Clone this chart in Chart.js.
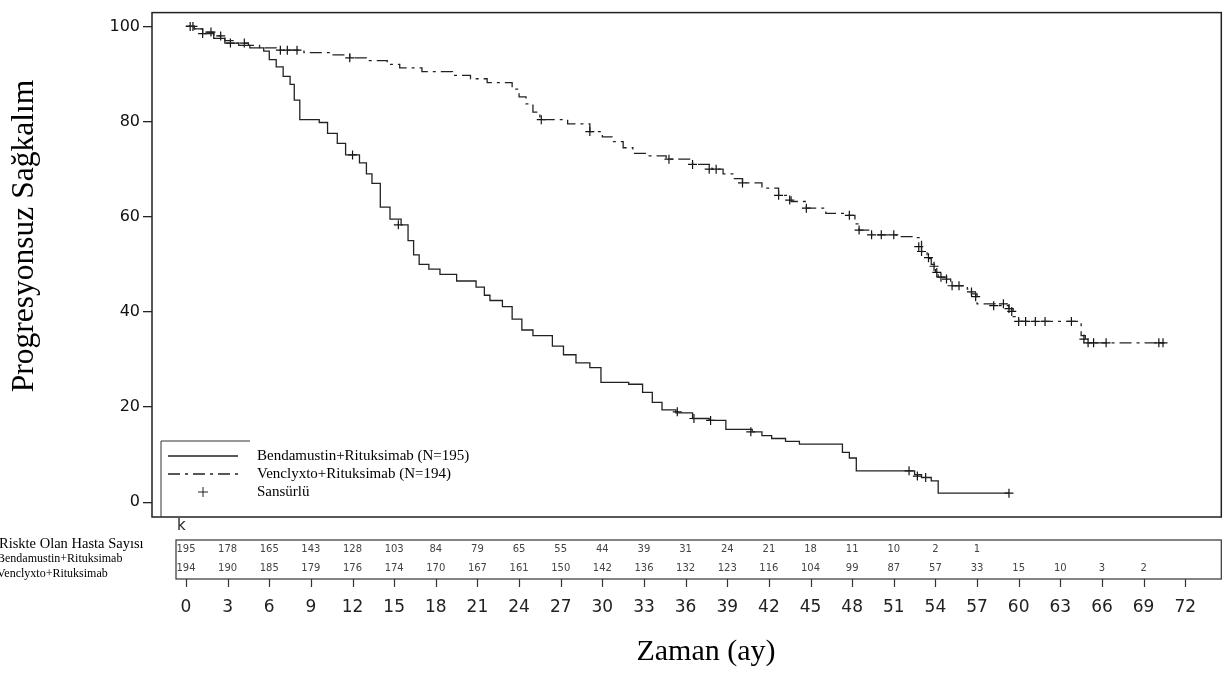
<!DOCTYPE html>
<html>
<head>
    <meta charset="utf-8">
    <title>Progresyonsuz Sağkalım</title>
    <script src="https://cdn.jsdelivr.net/npm/chart.js"></script>
    <style>
        html, body { margin: 0; padding: 0; background: #fff; }
    </style>
</head>
<body>
    <canvas id="kmChart" width="1227" height="673"></canvas>

    <script>
        // Kaplan-Meier curves: [months, % progression-free]
        const brLabel = 'Bendamustin+Rituksimab (N=195)';
        const brCurve = [
            [0, 100], [0.6, 99.5], [1.2, 98.5], [2, 97.5], [2.8, 96.5], [3.8, 96], [4.6, 95.5], [5.6, 94.8],
            [6, 93], [6.5, 91.5], [7, 89.5], [7.5, 87.8], [7.8, 84.5], [8.2, 80.4], [9.6, 79.8], [10.2, 77.5],
            [10.9, 75.4], [11.5, 73], [12.5, 71.3], [13, 69], [13.4, 67], [14, 62], [14.7, 59.5], [15.5, 58.3],
            [16, 55], [16.4, 52], [16.8, 50], [17.5, 49], [18.3, 47.9], [19.5, 46.5], [20.9, 45.2], [21.5, 43.5],
            [21.9, 42.4], [22.8, 41.1], [23.5, 38.5], [24.2, 36.2], [25, 35], [26.4, 32.8], [27.2, 31], [28.1, 29.3],
            [29.1, 28.3], [29.9, 25.2], [31.9, 24.8], [32.9, 23.1], [33.6, 21], [34.3, 19.4], [35.3, 18.8],
            [36.5, 17.6], [37.7, 17.2], [38.9, 15.3], [40.8, 14.8], [41.5, 14], [42.2, 13.4], [43.2, 12.8],
            [44.2, 12.2], [47.3, 10.5], [47.8, 9.3], [48.3, 6.6], [52.5, 5.8], [53, 5.2], [53.7, 4.5], [54.2, 1.9],
            [59.3, 1.9]
        ];
        const brCensored = [
            [0.3, 100], [1.2, 98.5], [3.2, 96.5], [12, 73], [15.3, 58.3], [35.4, 19], [36.6, 17.6],
            [37.8, 17.2], [40.7, 14.8], [52.1, 6.6], [52.7, 5.5], [53.3, 5.2], [59.3, 1.9]
        ];

        const vrLabel = 'Venclyxto+Rituksimab (N=194)';
        const vrCurve = [
            [0, 100], [0.6, 99.5], [1.2, 98.8], [2, 98], [2.8, 97], [3.6, 96.5], [4.5, 96], [5.3, 95.5],
            [6.5, 95], [8.5, 94.5], [10.5, 94], [11.8, 93.4], [13, 92.8], [14.5, 92], [15.4, 91.3], [17, 90.5],
            [19.2, 89.7], [20.5, 89], [21.7, 88.2], [23.5, 86.8], [24, 85.2], [24.5, 83.7], [25, 82], [25.5, 80.4],
            [27.5, 79.5], [29.1, 77.9], [30, 76.8], [30.7, 75.8], [31.5, 74.5], [32.2, 73.3], [33.2, 72.8],
            [34.6, 72.1], [36.5, 71], [37.9, 70], [38.7, 69], [39.4, 68], [40.1, 67.1], [41.5, 66], [42.7, 64.5],
            [43.6, 63.2], [44.7, 61.8], [46.1, 60.7], [47.8, 60.3], [48.2, 58.5], [48.5, 57.2], [49.4, 56.2],
            [51.2, 55.8], [52.6, 55.6], [53, 52.7], [53.4, 51.2], [53.7, 50], [54, 48.5], [54.2, 47.3],
            [55.1, 45.5], [56.3, 44.8], [56.6, 43.8], [57, 41.7], [58.3, 41.3], [59.3, 40.7], [59.6, 39],
            [60, 38], [64.4, 38], [64.5, 35], [64.8, 33.5], [70.8, 33.5]
        ];
        const vrCensored = [
            [0.5, 100], [1.8, 98.8], [2.5, 98], [4.2, 96.5], [6.8, 95], [7.3, 95], [8, 95], [11.8, 93.4],
            [25.6, 80.4], [29.1, 77.9], [34.8, 72.1], [36.5, 71], [37.7, 70], [38.2, 70], [40.1, 67.1],
            [42.7, 64.5], [43.5, 63.5], [44.7, 61.8], [47.8, 60.3], [48.5, 57.2], [49.4, 56.2], [50.1, 56.2],
            [51, 56.2], [52.8, 53.7], [53, 52.7], [53.5, 51.4], [53.9, 49.6], [54.1, 48.3], [54.4, 47.3],
            [54.8, 46.9], [55.2, 45.5], [55.7, 45.5], [56.6, 44.2], [56.9, 43.2], [58.2, 41.3], [58.9, 41.7],
            [59.3, 40.7], [59.5, 40.1], [60, 38], [60.5, 38], [61.2, 38], [61.9, 38], [63.8, 38], [64.7, 34.3],
            [65, 33.5], [65.4, 33.5], [66.3, 33.5], [70.1, 33.5], [70.4, 33.5]
        ];
        const censorLabel = 'Sansürlü';

        // number at risk table
        const riskTitle = 'Riskte Olan Hasta Sayısı';
        const riskRowNames = ['Bendamustin+Rituksimab', 'Venclyxto+Rituksimab'];
        const riskTimes = [0, 3, 6, 9, 12, 15, 18, 21, 24, 27, 30, 33, 36, 39, 42, 45, 48, 51, 54, 57, 60, 63, 66, 69];
        const riskBR = [195, 178, 165, 143, 128, 103, 84, 79, 65, 55, 44, 39, 31, 24, 21, 18, 11, 10, 2, 1];
        const riskVR = [194, 190, 185, 179, 176, 174, 170, 167, 161, 150, 142, 136, 132, 123, 116, 104, 99, 87, 57, 33, 15, 10, 3, 2];

        const xTicks = [0, 3, 6, 9, 12, 15, 18, 21, 24, 27, 30, 33, 36, 39, 42, 45, 48, 51, 54, 57, 60, 63, 66, 69, 72];
        const yTicks = [0, 20, 40, 60, 80, 100];
        const xTitle = 'Zaman (ay)';
        const yTitle = 'Progresyonsuz Sağkalım';

        const toXY = arr => arr.map(p => ({ x: p[0], y: p[1] }));
        const ink = '#222';
        const vrDash = [12, 5, 3, 5];
        const serif = '"Liberation Serif", "Times New Roman", serif';
        const sans = '"DejaVu Sans", Verdana, sans-serif';

        // everything around the plot that Chart.js has no built-in for
        const kmDecor = {
            id: 'kmDecor',
            afterDraw(chart) {
                const c = chart.ctx;
                const a = chart.chartArea;
                const xs = chart.scales.x;
                c.save();

                // plot frame
                c.strokeStyle = ink;
                c.lineWidth = 1.5;
                c.strokeRect(a.left, a.top, a.right - a.left, a.bottom - a.top);

                // legend (box is cut off on the right in the original)
                const lx = 161, ly = 441;
                c.lineWidth = 1;
                c.strokeStyle = '#333';
                c.beginPath();
                c.moveTo(250, ly); c.lineTo(lx, ly); c.lineTo(lx, a.bottom);
                c.stroke();
                const ds = chart.data.datasets;
                c.lineWidth = 1.3;
                c.strokeStyle = ink;
                c.beginPath(); c.moveTo(168, 456); c.lineTo(238, 456); c.stroke();
                c.setLineDash(vrDash);
                c.beginPath(); c.moveTo(168, 474); c.lineTo(238, 474); c.stroke();
                c.setLineDash([]);
                c.lineWidth = 1;
                c.beginPath();
                c.moveTo(203, 487); c.lineTo(203, 497); c.moveTo(198, 492); c.lineTo(208, 492);
                c.stroke();
                c.fillStyle = '#000';
                c.font = '15px ' + serif;
                c.textBaseline = 'middle';
                c.textAlign = 'left';
                c.fillText(ds[0].label, 257, 456);
                c.fillText(ds[1].label, 257, 474);
                c.fillText(ds[2].label, 257, 492);

                // number at risk table
                const boxL = xs.getPixelForValue(0) - 10;
                const boxT = 540, boxB = 579;
                c.fillStyle = '#222';
                c.font = '15px ' + sans;
                c.fillText('k', boxL + 1, 526);
                c.strokeStyle = '#333';
                c.lineWidth = 1.2;
                c.strokeRect(boxL, boxT, a.right - boxL, boxB - boxT);
                c.font = '10px ' + sans;
                c.fillStyle = '#444';
                c.textAlign = 'center';
                riskBR.forEach((n, i) => c.fillText(String(n), xs.getPixelForValue(riskTimes[i]), 549));
                riskVR.forEach((n, i) => c.fillText(String(n), xs.getPixelForValue(riskTimes[i]), 568));

                // x tick marks under the table
                c.strokeStyle = '#333';
                c.lineWidth = 1.2;
                c.beginPath();
                xTicks.forEach(t => {
                    const px = Math.round(xs.getPixelForValue(t)) + 0.5;
                    c.moveTo(px, boxB); c.lineTo(px, boxB + 8);
                });
                c.stroke();

                // row names on the left
                c.fillStyle = '#000';
                c.textAlign = 'left';
                c.font = '14.5px ' + serif;
                c.fillText(riskTitle, -1, 544);
                c.font = '12px ' + serif;
                c.fillText(riskRowNames[0], -3, 559);
                c.fillText(riskRowNames[1], -3, 574);

                // axis titles
                c.font = '30px ' + serif;
                c.textAlign = 'center';
                c.fillText(xTitle, 706, 652);
                c.font = '31.5px ' + serif;
                c.translate(25, 236);
                c.rotate(-Math.PI / 2);
                c.fillText(yTitle, 0, 0);
                c.restore();
            }
        };

        const ctx = document.getElementById('kmChart').getContext('2d');

        const chart = new Chart(ctx, {
            type: 'scatter',
            data: {
                datasets: [
                    {
                        label: brLabel,
                        data: toXY(brCurve),
                        showLine: true,
                        stepped: true,
                        borderColor: ink,
                        borderWidth: 1.3,
                        pointRadius: 0,
                        fill: false
                    },
                    {
                        label: vrLabel,
                        data: toXY(vrCurve),
                        showLine: true,
                        stepped: true,
                        borderColor: ink,
                        borderWidth: 1.3,
                        borderDash: vrDash,
                        pointRadius: 0,
                        fill: false
                    },
                    {
                        label: censorLabel,
                        data: toXY(brCensored.concat(vrCensored)),
                        showLine: false,
                        pointStyle: 'cross',
                        pointRadius: 4.5,
                        borderWidth: 1.2,
                        borderColor: '#111',
                        backgroundColor: '#111'
                    }
                ]
            },
            options: {
                responsive: false,
                animation: false,
                layout: { padding: { top: 4, right: 4, left: 0, bottom: 0 } },
                plugins: {
                    legend: { display: false },
                    tooltip: { enabled: false }
                },
                scales: {
                    x: {
                        type: 'linear',
                        min: -2.45,
                        max: 74.6,
                        afterBuildTicks: s => { s.ticks = xTicks.map(v => ({ value: v })); },
                        afterFit: s => {
                            s.height = 156;
                            // the big label padding must not eat into the plot width
                            s.paddingLeft = 0;
                            s.paddingRight = 0;
                        },
                        grid: { display: false, drawTicks: false },
                        border: { display: false },
                        ticks: {
                            autoSkip: false,
                            maxRotation: 0,
                            padding: 80,
                            color: '#222',
                            font: { family: sans, size: 17 }
                        }
                    },
                    y: {
                        min: -3.1,
                        max: 102.9,
                        afterBuildTicks: s => { s.ticks = yTicks.map(v => ({ value: v })); },
                        afterFit: s => { s.width = 152; },
                        grid: { drawOnChartArea: false, tickLength: 9, tickColor: ink, lineWidth: 1.3 },
                        border: { display: false },
                        ticks: {
                            padding: 3,
                            color: '#111',
                            font: { family: sans, size: 16 }
                        }
                    }
                }
            },
            plugins: [kmDecor]
        });
    </script>
</body>
</html>
